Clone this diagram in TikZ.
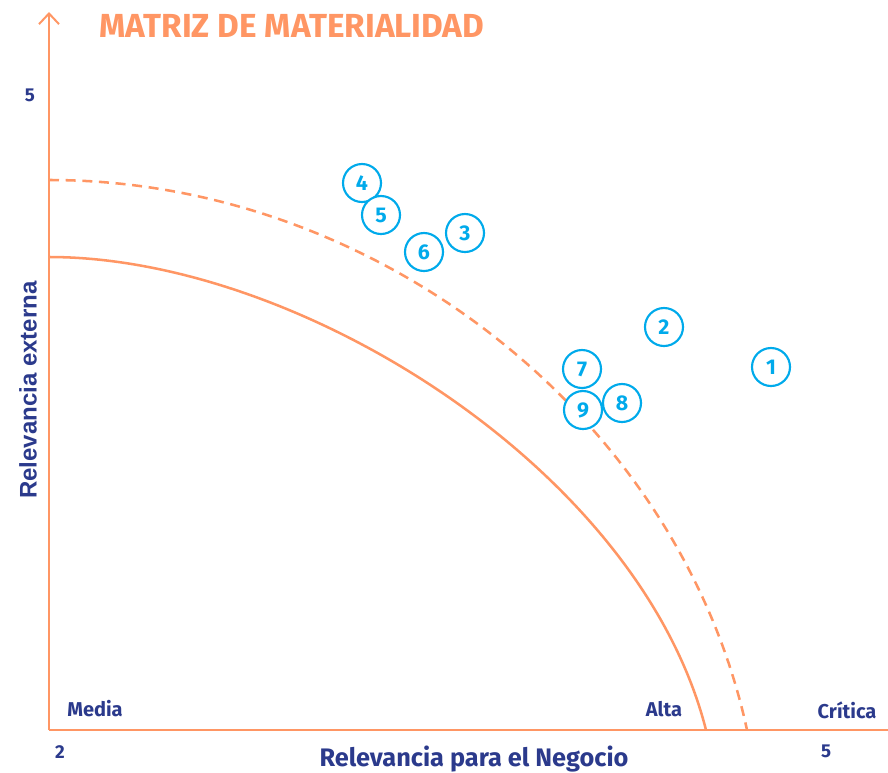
\documentclass[tikz,border=0pt]{standalone}
\usepackage{fontspec}
\setmainfont{Fira Sans}
\newfontfamily\arialfont{Liberation Sans}
\usetikzlibrary{arrows.meta,positioning}
\definecolor{matorange}{RGB}{255,150,100}
\definecolor{matnavy}{RGB}{43,58,140}
\definecolor{matcyan}{RGB}{0,170,235}

\begin{document}
\begin{tikzpicture}[x=0.75pt,y=-0.75pt,
		every node/.style={inner sep=0pt,text=matnavy},
		axis/.style={matorange,line width=1.5pt},
		border/.style={matorange,line width=1.9pt},
		topic/.style={circle,draw=matcyan,fill=white,line width=1.6pt,minimum size=28.5pt,text=matcyan,font=\bfseries\fontsize{16}{16}\selectfont},
		ticklabel/.style={font=\bfseries\fontsize{14}{14}\selectfont},
		zonelabel/.style={font=\bfseries\fontsize{15}{15}\selectfont},
		axislabel/.style={font=\bfseries\fontsize{19}{19}\selectfont}]
		\useasboundingbox (0,0) rectangle (888,772);

		% axes
		\coordinate (origin) at (49,730);
		\coordinate (ytop) at (49,12);
		\coordinate (xend) at (888,730);
		\draw[axis,-{Straight Barb[length=8pt,width=15pt]}] (origin) -- (ytop);
		\draw[axis] (origin) -- (xend);

		% borders between zones
		\coordinate (altatop) at (49,257);
		\coordinate (altabase) at (706,730);
		\coordinate (criticatop) at (49,180);
		\coordinate (criticabase) at (747,730);
		\draw[border] (altatop) .. controls (300,257) and (640,470) .. (altabase);
		\draw[border,dash pattern=on 7.5pt off 5pt] (criticatop) .. controls (380,180) and (680,420) .. (criticabase);

		% labels
		\node[text=matorange,font=\bfseries\fontsize{25}{25}\selectfont,anchor=west] (title) at (99,26) {MATRIZ DE MATERIALIDAD};
		\node[ticklabel] (ymax) at (30,95) {5};
		\node[ticklabel] (xmin) at (60,752) {2};
		\node[ticklabel] (xmax) at (826,751) {5};
		\node[zonelabel] (media) at (95,709) {Media};
		\node[zonelabel] (alta) at (664,709) {Alta};
		\node[zonelabel] (critica) at (847,710) {Crítica};
		\node[axislabel] (xlabel) at (474,759) {Relevancia para el Negocio};
		\node[axislabel,font=\arialfont\bfseries\fontsize{18}{18}\selectfont,rotate=90] (ylabel) at (28,390) {Relevancia externa};

		% topics
		\node[topic] (t1) at (771,367) {1};
		\node[topic] (t2) at (664,327) {2};
		\node[topic] (t3) at (465,233) {3};
		\node[topic] (t4) at (362,183) {4};
		\node[topic] (t5) at (381,215) {5};
		\node[topic] (t6) at (424,252) {6};
		\node[topic] (t7) at (582,369) {7};
		\node[topic] (t8) at (622,403) {8};
		\node[topic] (t9) at (583,410) {9};
	\end{tikzpicture}
\end{document}
